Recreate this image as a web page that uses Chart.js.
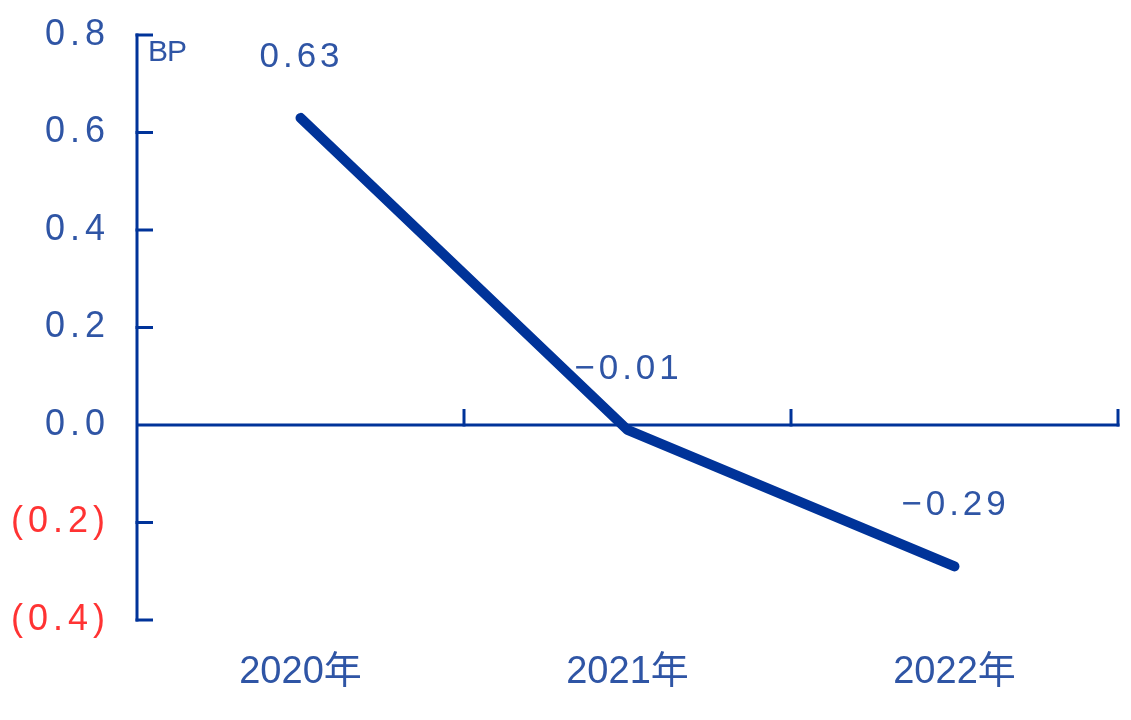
<!DOCTYPE html>
<html><head><meta charset="utf-8">
<script src="https://cdn.jsdelivr.net/npm/chart.js@4.4.1/dist/chart.umd.min.js"></script>
<style>html,body{margin:0;padding:0;background:#fff}#wrap{width:1131px;height:720px;position:relative}</style>
</head><body><div id="wrap"><canvas id="c"></canvas></div>
<script>
const categories = ['2020年', '2021年', '2022年'];
const values = [0.63, -0.01, -0.29];
const yTicks = [0.8, 0.6, 0.4, 0.2, 0.0, -0.2, -0.4];
const unitLabel = 'BP';

const AXIS = '#003399', TEXT = '#2f55a5', RED = '#ff3333';
const FONT = "'Liberation Sans', 'Noto Sans CJK SC', sans-serif";

function fmtTick(v) { return v < 0 ? '(' + Math.abs(v).toFixed(1) + ')' : v.toFixed(1); }
function fmtVal(v) { return v < 0 ? '\u2212' + Math.abs(v).toFixed(2) : v.toFixed(2); }

const axesPlugin = {
  id: 'axesCustom',
  beforeDraw(chart) {
    const s = chart.scales.y;
    if (s && !s.__ls) {
      const orig = s.drawLabels;
      s.drawLabels = function (area) {
        const c = this.ctx; c.save(); c.letterSpacing = '5px'; orig.call(this, area); c.restore();
      };
      s.__ls = true;
    }
  },
  beforeDatasetsDraw(chart) {
    const { ctx, chartArea: a, scales: { x, y } } = chart;
    ctx.save();
    ctx.strokeStyle = AXIS;
    ctx.lineWidth = 3;
    ctx.lineCap = 'butt';
    const ax = a.left;
    ctx.beginPath();
    ctx.moveTo(ax, y.getPixelForValue(yTicks[0]) - 1.5);
    ctx.lineTo(ax, y.getPixelForValue(yTicks[yTicks.length - 1]) + 1.5);
    ctx.stroke();
    yTicks.forEach(v => {
      if (v === 0) return;
      const py = y.getPixelForValue(v);
      ctx.beginPath(); ctx.moveTo(ax - 1.5, py); ctx.lineTo(ax + 16, py); ctx.stroke();
    });
    const zy = y.getPixelForValue(0);
    ctx.beginPath(); ctx.moveTo(ax, zy); ctx.lineTo(a.right + 1.5, zy); ctx.stroke();
    for (let i = 0; i < categories.length; i++) {
      const px = i < categories.length - 1
        ? (x.getPixelForValue(i) + x.getPixelForValue(i + 1)) / 2
        : a.right;
      ctx.beginPath(); ctx.moveTo(px, zy + 1.5); ctx.lineTo(px, zy - 16); ctx.stroke();
    }
    ctx.fillStyle = TEXT;
    ctx.font = '30px ' + FONT;
    ctx.letterSpacing = '-1px';
    ctx.textAlign = 'left';
    ctx.textBaseline = 'alphabetic';
    ctx.fillText(unitLabel, ax + 11, y.getPixelForValue(yTicks[0]) + 26);
    ctx.restore();
  },
  afterDatasetsDraw(chart) {
    const { ctx } = chart;
    const meta = chart.getDatasetMeta(0);
    ctx.save();
    ctx.fillStyle = TEXT;
    ctx.font = '35px ' + FONT;
    ctx.letterSpacing = '4px';
    ctx.textAlign = 'center';
    ctx.textBaseline = 'alphabetic';
    meta.data.forEach((p, i) => {
      ctx.fillText(fmtVal(values[i]), p.x + 1, p.y - 51);
    });
    ctx.restore();
  }
};

new Chart(document.getElementById('c'), {
  type: 'line',
  data: {
    labels: categories,
    datasets: [{
      data: values,
      borderColor: AXIS,
      borderWidth: 10,
      borderCapStyle: 'round',
      borderJoinStyle: 'round',
      pointRadius: 0,
      tension: 0,
      clip: false
    }]
  },
  options: {
    responsive: true,
    maintainAspectRatio: false,
    devicePixelRatio: 1,
    animation: false,
    layout: { padding: { left: 0, right: 13, top: 35, bottom: 0 } },
    plugins: { legend: { display: false }, tooltip: { enabled: false } },
    scales: {
      x: {
        type: 'category',
        offset: true,
        grid: { display: false },
        border: { display: false },
        ticks: { color: TEXT, font: { family: FONT, size: 38 }, padding: 22, maxRotation: 0 },
        afterFit: s => { s.height = 100; s.paddingLeft = 0; s.paddingRight = 0; }
      },
      y: {
        min: -0.4, max: 0.8,
        grid: { display: false },
        border: { display: false },
        afterBuildTicks: s => { s.ticks = yTicks.map(v => ({ value: v })); },
        ticks: {
          color: c => (c.tick && c.tick.value < 0 ? RED : TEXT),
          font: { family: FONT, size: 36 },
          padding: 19,
          callback: v => fmtTick(v)
        },
        afterFit: s => { s.width = 137; s.paddingTop = 0; s.paddingBottom = 0; }
      }
    }
  },
  plugins: [axesPlugin]
});
</script>
</body></html>
